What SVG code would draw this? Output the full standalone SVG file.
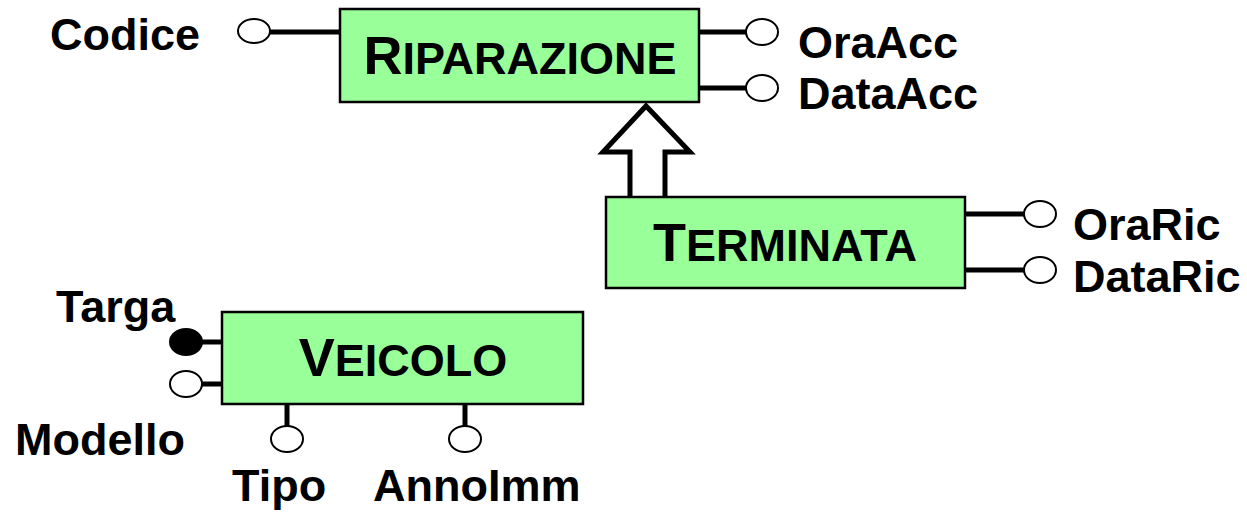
<svg xmlns="http://www.w3.org/2000/svg" width="1247" height="512" viewBox="0 0 1247 512">
  <style>
    .entity { fill: #99ff99; stroke: #000; stroke-width: 2.5; }
    .title { font-family: "Liberation Sans", Arial, sans-serif; font-weight: bold; font-size: 45px; fill: #000; }
    .cap { font-size: 54px; }
    .label { font-family: "Liberation Sans", Arial, sans-serif; font-weight: bold; font-size: 45px; fill: #000; }
    .link { stroke: #000; stroke-width: 5; fill: none; }
    .attr { fill: #fff; stroke: #000; stroke-width: 2; }
    .key { fill: #000; stroke: #000; stroke-width: 2; }
    .isa { fill: #fff; stroke: #000; stroke-width: 5; stroke-linejoin: miter; }
  </style>
  <rect width="1247" height="512" fill="#fff"/>

  <!-- connectors: attribute stems and generalization arrow -->
  <g id="connectors">
    <line class="link" x1="270" y1="32" x2="340" y2="32"/>
    <line class="link" x1="699" y1="32" x2="746" y2="32"/>
    <line class="link" x1="699" y1="88" x2="746" y2="88"/>
    <line class="link" x1="965" y1="214" x2="1024" y2="214"/>
    <line class="link" x1="965" y1="270" x2="1024" y2="270"/>
    <line class="link" x1="202" y1="342" x2="222" y2="342"/>
    <line class="link" x1="202" y1="384" x2="222" y2="384"/>
    <line class="link" x1="287" y1="404" x2="287" y2="427"/>
    <line class="link" x1="465" y1="404" x2="465" y2="427"/>
    <path class="isa" d="M630,197 L630,152 L603,152 L646,106 L690,152 L665,152 L665,197"/>
  </g>

  <!-- RIPARAZIONE entity with its attributes -->
  <g id="riparazione">
    <rect class="entity" x="340" y="9" width="359" height="93"/>
    <text class="title" x="520" y="74" text-anchor="middle"><tspan class="cap">R</tspan>IPARAZIONE</text>
    <ellipse class="attr" cx="254" cy="31" rx="16" ry="12"/>
    <text class="label" x="50" y="50">Codice</text>
    <ellipse class="attr" cx="762" cy="32" rx="16" ry="13"/>
    <text class="label" x="798" y="58">OraAcc</text>
    <ellipse class="attr" cx="762" cy="88" rx="16" ry="13"/>
    <text class="label" x="798" y="109">DataAcc</text>
  </g>

  <!-- TERMINATA entity (subset of RIPARAZIONE) -->
  <g id="terminata">
    <rect class="entity" x="606" y="197" width="359" height="91"/>
    <text class="title" x="785" y="261" text-anchor="middle"><tspan class="cap">T</tspan>ERMINATA</text>
    <ellipse class="attr" cx="1040" cy="214" rx="16" ry="13"/>
    <text class="label" x="1073" y="240">OraRic</text>
    <ellipse class="attr" cx="1040" cy="270" rx="16" ry="13"/>
    <text class="label" x="1073" y="292">DataRic</text>
  </g>

  <!-- VEICOLO entity with key Targa -->
  <g id="veicolo">
    <rect class="entity" x="222" y="312" width="361" height="92"/>
    <text class="title" x="403" y="376" text-anchor="middle"><tspan class="cap">V</tspan>EICOLO</text>
    <ellipse class="key" cx="186" cy="342" rx="16" ry="13"/>
    <text class="label" x="56" y="322">Targa</text>
    <ellipse class="attr" cx="186" cy="384" rx="16" ry="13"/>
    <text class="label" x="15" y="455">Modello</text>
    <ellipse class="attr" cx="287" cy="439" rx="16" ry="13"/>
    <text class="label" x="232" y="501">Tipo</text>
    <ellipse class="attr" cx="465" cy="439" rx="16" ry="13"/>
    <text class="label" x="373" y="501">AnnoImm</text>
  </g>
</svg>
